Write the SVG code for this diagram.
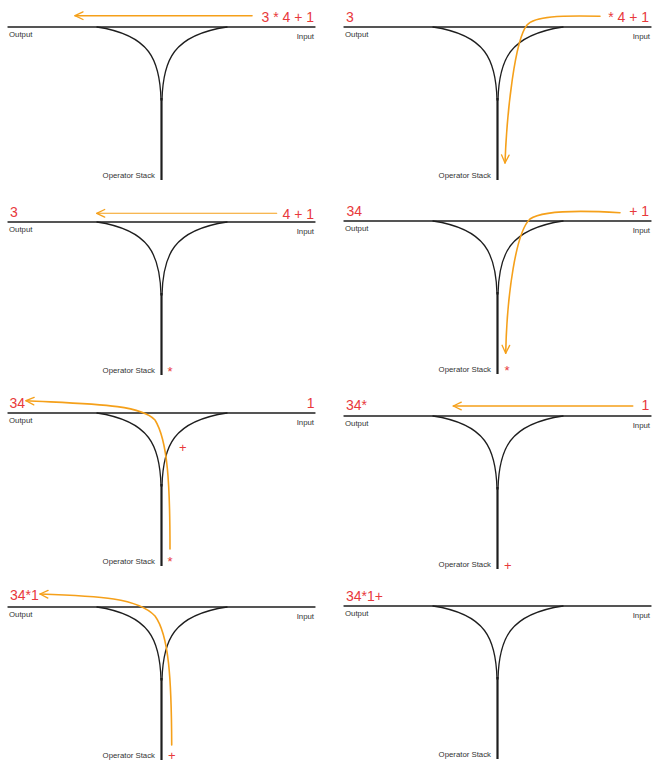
<svg xmlns="http://www.w3.org/2000/svg" xmlns:xlink="http://www.w3.org/1999/xlink" width="660" height="771" viewBox="0 0 660 771">
<style>
.trk{fill:none;stroke:#1e1e1e;stroke-width:1.3;stroke-linecap:round}
.stem{fill:none;stroke:#1e1e1e;stroke-width:2.2}
.lbl{font-family:"Liberation Sans",Arial,sans-serif;font-size:7.8px;fill:#333}
.tok{font-family:"Liberation Sans",Arial,sans-serif;font-size:14px;fill:#e8393c}
.op{font-family:"Liberation Sans",Arial,sans-serif;font-size:13px;fill:#e8393c}
.flow{fill:none;stroke:#f5a01a;stroke-width:1.6;stroke-linecap:round;marker-end:url(#chev)}
.thin{stroke-width:1.1}
</style>
<defs>
<marker id="chev" viewBox="-10 -6 12 12" refX="0" refY="0" markerWidth="12" markerHeight="12" markerUnits="userSpaceOnUse" orient="auto" overflow="visible">
<path d="M-8,-3.8 L0,0 L-8,3.8" fill="none" stroke="#f5a01a" stroke-width="1.3" stroke-linecap="round" stroke-linejoin="round"/>
</marker>
<g id="track">
<path class="trk" d="M8,27 H315"/>
<path class="trk" d="M97,27 C150,35 160,60 161,100"/>
<path class="trk" d="M227,27 C173,35 163,60 162,100"/>
<path class="stem" d="M161.5,98 V180"/>
<text class="lbl" x="9" y="37">Output</text>
<text class="lbl" x="314" y="38.5" text-anchor="end">Input</text>
<text class="lbl" x="155" y="178" text-anchor="end">Operator Stack</text>
</g>
</defs>
<g id="panel1">
<use xlink:href="#track"/>
<text class="tok" x="314" y="22" text-anchor="end">3 * 4 + 1</text>
</g>
<g id="panel2" transform="translate(336,0)">
<use xlink:href="#track"/>
<text class="tok" x="10" y="22">3</text>
<text class="tok" x="313" y="22" text-anchor="end">* 4 + 1</text>
</g>
<g id="panel3" transform="translate(0,195)">
<use xlink:href="#track"/>
<text class="tok" x="10" y="21.7">3</text>
<text class="tok" x="314" y="24" text-anchor="end">4 + 1</text>
<text class="op" x="167.5" y="180.5">*</text>
</g>
<g id="panel4" transform="translate(336,194)">
<use xlink:href="#track"/>
<text class="tok" x="10.5" y="21.7">34</text>
<text class="tok" x="313" y="21.7" text-anchor="end">+ 1</text>
<text class="op" x="168.5" y="180.5">*</text>
</g>
<g id="panel5" transform="translate(0,386)">
<use xlink:href="#track"/>
<text class="tok" x="9.5" y="21.7">34</text>
<text class="tok" x="314.5" y="21.7" text-anchor="end">1</text>
<text class="op" x="179" y="65.5">+</text>
<text class="op" x="167.5" y="180">*</text>
</g>
<g id="panel6" transform="translate(336,389)">
<use xlink:href="#track"/>
<text class="tok" x="10" y="21">34*</text>
<text class="tok" x="313.3" y="21" text-anchor="end">1</text>
<text class="op" x="168" y="180.5">+</text>
</g>
<g id="panel7" transform="translate(0,580)">
<use xlink:href="#track"/>
<text class="tok" x="10" y="20">34*1</text>
<text class="op" x="168" y="180">+</text>
</g>
<g id="panel8" transform="translate(336,579)">
<use xlink:href="#track"/>
<text class="tok" x="10" y="21.7">34*1+</text>
</g>
<g id="connectors">
<path class="flow" d="M252,15.7 H75"/>
<path class="flow" transform="translate(336,0)" d="M264,16.3 C224,15.5 199,16 191,25 C179,40 171,110 169,163"/>
<path class="flow thin" transform="translate(0,195)" d="M276.7,18.3 H96.7"/>
<path class="flow" transform="translate(336,194)" d="M284,18.7 C240,16 205,17 194,25 C180,38 171,100 169.7,159.3"/>
<path class="flow" transform="translate(0,386)" d="M170,163 C170,100 168,55 155,34 C140,18 90,18 26,14.7"/>
<path class="flow" transform="translate(336,389)" d="M296.7,17 H117.3"/>
<path class="flow" transform="translate(0,580)" d="M171.7,165 C171.5,100 169,55 155,36 C138,18 100,16 40,14"/>
</g>
</svg>
